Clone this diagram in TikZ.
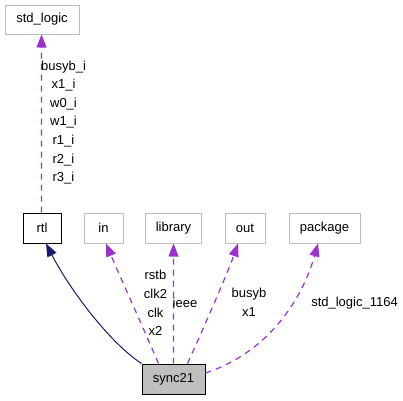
\documentclass[tikz,border=0pt]{standalone}
\usepackage{fontspec}
\setmainfont{Liberation Sans}
\usetikzlibrary{arrows.meta}
\definecolor{boxgray}{HTML}{BFBFBF}
\definecolor{deppurple}{HTML}{9A32CD}
\definecolor{inhnavy}{HTML}{191970}
\begin{document}
\begin{tikzpicture}[x=1pt,y=-1pt,font=\fontsize{13}{18.6}\selectfont,
  box/.style={draw=boxgray,line width=1pt,minimum height=29pt,inner sep=0pt},
  depedge/.style={deppurple,line width=1.2pt,dash pattern=on 6pt off 5pt,
    -{Triangle[length=13pt,width=10pt]}},
  inhedge/.style={inhnavy,line width=1pt,
    -{Triangle[length=13pt,width=10pt]}},
  lbl/.style={text=black,align=center,inner sep=0pt}]
\useasboundingbox (0,0) rectangle (403,400);

\node[box,minimum width=74pt] (stdlogic) at (42,19.5) {std\_logic};
\node[box,draw=black,minimum width=38pt,minimum height=30pt] (rtl) at (42,228) {rtl};
\node[box,minimum width=39pt,minimum height=30pt] (in) at (103.5,228) {in};
\node[box,minimum width=56pt,minimum height=30pt] (library) at (173.5,228) {library};
\node[box,minimum width=40pt,minimum height=30pt] (out) at (245,228) {out};
\node[box,minimum width=71pt,minimum height=30pt] (package) at (324.5,228) {package};
\node[box,draw=black,fill=boxgray,minimum width=63pt,minimum height=30pt] (sync21) at (173.5,379) {sync21};

% dependencies
\draw[depedge] ([xshift=-0.5]rtl.north) .. controls (41.6,150) and (41.4,90) .. ([xshift=-0.5]stdlogic.south);
\draw[inhedge] (sync21.north west) .. controls (110,343) and (70,290) .. ([xshift=4]rtl.south);
\draw[depedge] ([xshift=-15]sync21.north) .. controls (146,334) and (118,272) .. ([xshift=2.5]in.south);
\draw[depedge] (sync21.north) .. controls (173.6,320) and (173.4,280) .. (library.south);
\draw[depedge] ([xshift=14]sync21.north) .. controls (201,334) and (228,272) .. ([xshift=-7]out.south);
\draw[depedge] ([yshift=6]sync21.east) .. controls (275,350) and (305,290) .. ([xshift=-6.5]package.south);

\node[lbl] (stdlabel) at (63.5,122.5) {busyb\_i\\x1\_i\\w0\_i\\w1\_i\\r1\_i\\r2\_i\\r3\_i};
\node[lbl] (inlabel) at (155.5,303) {rstb\\clk2\\clk\\x2};
\node[lbl] (liblabel) at (185,303) {ieee};
\node[lbl] (outlabel) at (249,302.5) {busyb\\x1};
\node[lbl] (pkglabel) at (354.5,303) {std\_logic\_1164};
\end{tikzpicture}
\end{document}
